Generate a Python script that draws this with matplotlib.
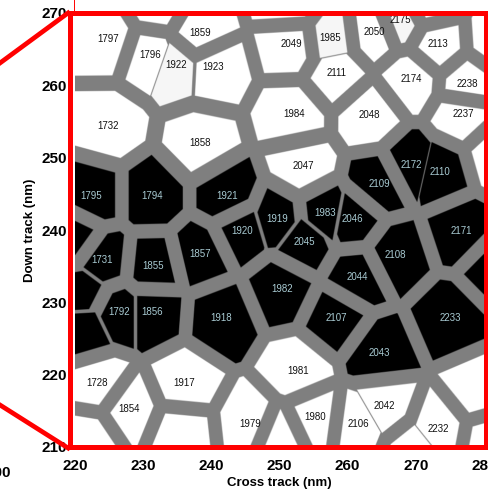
import numpy as np
import matplotlib.pyplot as plt
from matplotlib.patches import Rectangle
from matplotlib.lines import Line2D

plt.rcParams['font.family'] = ['Liberation Sans', 'DejaVu Sans']

# grains: id, centre (nm), state (1 = black / switched, 0 = white)
grain_id = ['1797', '1796', '1922', '1859', '1923', '2049', '1985', '2050',
            '2175', '2113', '2111', '2174', '2238', '1732', '1858', '1984',
            '2048', '2237', '2047', '2172', '2110', '1795', '1794', '1921',
            '2109', '1919', '1983', '2046', '1920', '2045', '2171', '1731',
            '1855', '1857', '2108', '2044', '1982', '1792', '1856', '1918',
            '2107', '2233', '2043', '1981', '1728', '1917', '1854', '2042',
            '1980', '2106', '1979', '2232',
            # grains cut by the frame (no label)
            'L1', 'L2', 'L3', 'BL', 'B2', 'B3', 'B4', 'T1', 'T2', 'T3',
            'R1', 'R2', 'R3', 'R4', 'R5']
grain_x = [224.8, 231.0, 234.8, 238.3, 240.3, 251.8, 257.4, 263.9,
           267.7, 273.2, 258.3, 269.3, 277.6, 224.9, 238.3, 252.1,
           263.2, 277.0, 253.5, 269.3, 273.5, 222.4, 231.3, 242.3,
           264.6, 249.6, 256.7, 260.7, 244.5, 253.6, 276.7, 224.0,
           231.5, 238.3, 267.0, 261.4, 250.4, 226.4, 231.3, 241.5,
           258.3, 275.1, 264.6, 252.7, 223.3, 236.0, 228.0, 265.4,
           255.2, 261.5, 245.7, 273.3,
           219.8, 221.0, 221.3, 222.1, 235.4, 249.8, 269.9, 232.0, 251.5, 272.0,
           281.7, 281.8, 281.7, 279.2, 281.0]
grain_y = [266.4, 264.2, 262.8, 267.2, 262.5, 265.7, 266.5, 267.4,
           269.0, 265.7, 261.7, 260.9, 260.2, 254.4, 252.0, 256.0,
           255.9, 256.0, 248.8, 249.0, 248.0, 244.7, 244.7, 244.7,
           246.4, 241.5, 242.3, 241.5, 239.9, 238.3, 239.9, 235.8,
           235.0, 236.7, 236.5, 233.5, 231.8, 228.6, 228.6, 227.8,
           227.8, 227.8, 223.0, 220.5, 218.8, 218.8, 215.2, 215.6,
           214.1, 213.2, 213.2, 212.5,
           239.0, 231.5, 226.0, 211.0, 212.0, 211.4, 209.6, 271.2, 271.2, 271.5,
           266.3, 250.5, 234.7, 217.6, 211.0]
grain_state = [0, 0, 0, 0, 0, 0, 0, 0,
               0, 0, 0, 0, 0, 0, 0, 0,
               0, 0, 0, 1, 1, 1, 1, 1,
               1, 1, 1, 1, 1, 1, 1, 1,
               1, 1, 1, 1, 1, 1, 1, 1,
               1, 1, 1, 0, 0, 0, 0, 0,
               0, 0, 0, 0,
               1, 1, 1, 0, 0, 0, 0, 0, 0, 0,
               0, 0, 1, 0, 0]
pale_grains = ['1922', '1985', '2175']

# boundaries that are only a thin line / a narrow gap
thin_pairs = [('1796', '1922'), ('1985', '2111'), ('2172', '2110'),
              ('2106', '2042'), ('2232', 'B4')]
narrow_pairs = [('1919', '1920'), ('1919', '2045'), ('1983', '2046'),
                ('1983', '2045'), ('1731', 'L2'), ('L2', 'L3'),
                ('1792', 'L3'), ('1792', '1856'), ('1922', '1923')]

inset_default = 1.0
inset_thin = 0.07
inset_narrow = 0.25
inset_wide = {'1858': 1.3, '1732': 1.15, '2047': 1.15, '1984': 1.1}

# --- build the grain map (voronoi with gaps) ---
n = len(grain_id)
idx = {g: i for i, g in enumerate(grain_id)}
px = np.array(grain_x)
py = np.array(grain_y)

S = np.full((n, n), inset_default)
for g, w in inset_wide.items():
    S[idx[g], :] = w
for a, b in thin_pairs:
    S[idx[a], idx[b]] = S[idx[b], idx[a]] = inset_thin
for a, b in narrow_pairs:
    S[idx[a], idx[b]] = S[idx[b], idx[a]] = inset_narrow
D = np.hypot(px[:, None] - px[None, :], py[:, None] - py[None, :])
np.fill_diagonal(D, 1.0)

nx, ny = 820, 860
xs = np.linspace(220, 280, nx)
ys = np.linspace(210, 270, ny)
X, Y = np.meshgrid(xs, ys)

best = np.full(X.shape, np.inf)
near = np.zeros(X.shape, dtype=int)
for i in range(n):
    d = (X - px[i])**2 + (Y - py[i])**2
    m = d < best
    best[m] = d[m]
    near[m] = i

margin = np.full(X.shape, np.inf)
for j in range(n):
    d = (X - px[j])**2 + (Y - py[j])**2
    val = (d - best) / (2 * D[near, j]) - S[near, j]
    val[near == j] = np.inf
    margin = np.minimum(margin, val)

cell_col = np.array([0.0 if s == 1 else 1.0 for s in grain_state])
for g in pale_grains:
    cell_col[idx[g]] = 0.965
gray = 0.5
t = np.clip(margin / 0.07 + 0.5, 0, 1)
v = gray * (1 - t) + cell_col[near] * t
img = np.dstack([v, v, v])

# --- figure ---
fig = plt.figure(figsize=(4.89, 4.95), dpi=100)
ax = fig.add_axes([75/489, 1 - 447/495, 409/489, 434/495])
ax.imshow(img, extent=[220, 280, 210, 270], origin='lower', aspect='auto',
          interpolation='bilinear')
ax.set_xlim(220, 280)
ax.set_ylim(210, 270)

for g, x, y, s in zip(grain_id, grain_x, grain_y, grain_state):
    if not g[0].isdigit():
        continue
    ax.text(x, y, g, ha='center', va='center', fontsize=7,
            color='#a9cbd3' if s == 1 else '#111111')

ax.set_xticks(np.arange(220, 281, 10))
ax.set_yticks(np.arange(210, 271, 10))
ax.tick_params(length=0, labelsize=11, pad=6)
ax.tick_params(axis='x', pad=9)
for lab in ax.get_xticklabels() + ax.get_yticklabels():
    lab.set_fontweight('bold')
for sp in ax.spines.values():
    sp.set_visible(False)

ax.set_xlabel('Cross track (nm)', fontsize=9.5, fontweight='bold')
ax.set_ylabel('Down track (nm)', fontsize=9.5, fontweight='bold')
ax.xaxis.set_label_coords(0.5, -0.07)
ax.yaxis.set_label_coords(-0.095, 0.5)

# red zoom frame and connector lines
W, H = 489, 495
fig.patches.append(Rectangle((70.5/W, 1 - 446.5/H), 416/W, 434/H, fill=False,
                             edgecolor='red', linewidth=3.6,
                             transform=fig.transFigure))
fig.lines.append(Line2D([68/W, 0], [1 - 13/H, 1 - 63/H], color='red',
                        linewidth=3.4, transform=fig.transFigure))
fig.lines.append(Line2D([68/W, 0], [1 - 448/H, 1 - 405/H], color='red',
                        linewidth=3.4, transform=fig.transFigure))
fig.lines.append(Line2D([74.5/W, 74.5/W], [1.0, 1 - 12/H], color='red',
                        linewidth=0.7, transform=fig.transFigure))
fig.text(11/W, 1 - 473/H, '200', ha='right', va='center', fontsize=11,
         fontweight='bold')

fig.savefig('out.png', dpi=100)
